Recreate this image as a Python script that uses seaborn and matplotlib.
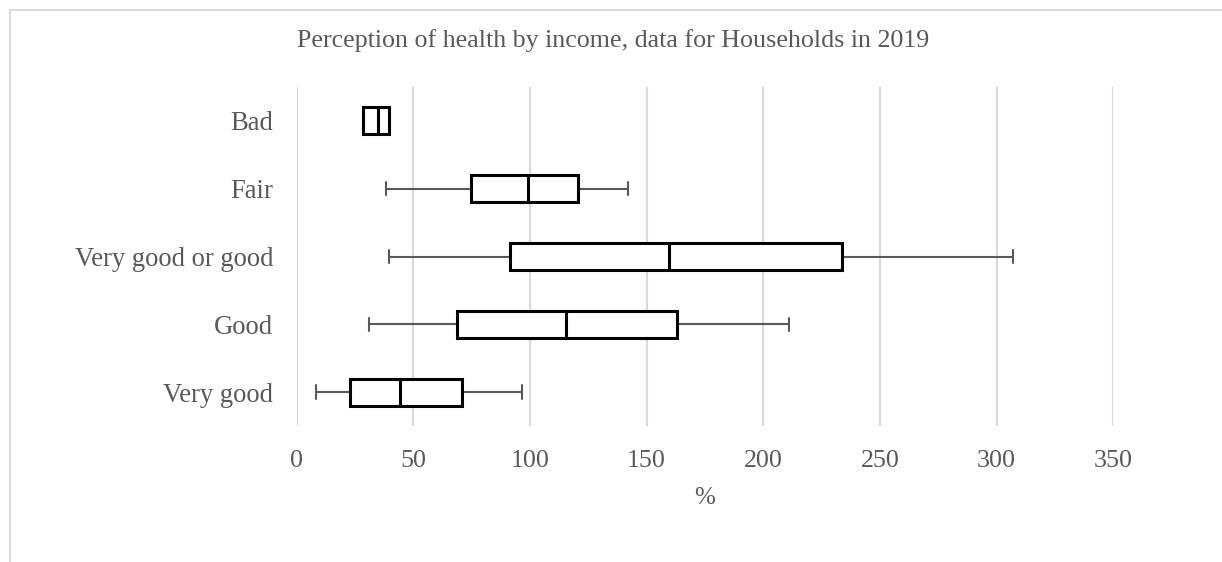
import numpy as np
import pandas as pd
import matplotlib
matplotlib.use("Agg")
import matplotlib.pyplot as plt
from matplotlib.lines import Line2D
import seaborn as sns

# Five-number summaries per perception category (% of income)
categories = ["Bad", "Fair", "Very good or good", "Good", "Very good"]
whisker_low = [28.3, 38.3, 39.7, 31.1, 8.3]
q1 = [28.3, 74.6, 91.4, 68.6, 22.9]
median = [35.0, 99.3, 159.7, 115.3, 44.3]
q3 = [39.6, 120.7, 233.6, 163.1, 70.7]
whisker_high = [39.6, 142.1, 307.1, 211.0, 96.4]

x_ticks = [0, 50, 100, 150, 200, 250, 300, 350]

# Long table: the five summary points reproduce the quartiles exactly
rows = []
for i, cat in enumerate(categories):
    for v in (whisker_low[i], q1[i], median[i], q3[i], whisker_high[i]):
        rows.append({"category": cat, "value": v})
df = pd.DataFrame(rows)

sns.set_theme(style="white")
plt.rcParams["font.family"] = ["Liberation Serif", "DejaVu Serif"]

text_color = "#595959"
grid_color = "#d9d9d9"

fig = plt.figure(figsize=(12.22, 5.62), dpi=100)
ax = fig.add_axes([296.7 / 1222, 1 - 426 / 562, (1113.3 - 296.7) / 1222, (426 - 87) / 562])

sns.boxplot(
    data=df, x="value", y="category", order=categories, orient="y",
    whis=(0, 100), width=0.4, fliersize=0, ax=ax,
    boxprops={"facecolor": "white", "edgecolor": "black", "linewidth": 2.2, "zorder": 3},
    medianprops={"color": "black", "linewidth": 2.2, "zorder": 4},
    whiskerprops={"color": text_color, "linewidth": 1.5, "zorder": 2},
    capprops={"color": text_color, "linewidth": 1.5, "zorder": 2},
)

ax.set_xlim(0, 350)
ax.set_xticks(x_ticks)
ax.set_xticklabels([str(t) for t in x_ticks])
ax.grid(axis="x", color=grid_color, linewidth=1.5)
ax.grid(axis="y", visible=False)
ax.set_axisbelow(True)
for s in ax.spines.values():
    s.set_visible(False)

ax.tick_params(axis="x", length=0, pad=17, labelsize=18.7, labelcolor=text_color)
ax.tick_params(axis="y", length=0, pad=17, labelsize=19.2, labelcolor=text_color)
ax.set_ylabel("")
ax.set_xlabel("%", fontsize=18, color=text_color, labelpad=11)

fig.text(613.5 / 1222, 1 - 46.7 / 562, "Perception of health by income, data for Households in 2019",
         ha="center", va="baseline", fontsize=18.7, color=text_color)

# Chart frame edges
fig.add_artist(Line2D([10 / 1222, 10 / 1222], [0, 1 - 10 / 562], transform=fig.transFigure,
                      color=grid_color, linewidth=1.5))
fig.add_artist(Line2D([10 / 1222, 1], [1 - 10 / 562, 1 - 10 / 562], transform=fig.transFigure,
                      color=grid_color, linewidth=1.5))

fig.savefig("out.png", dpi=100, facecolor="white")
